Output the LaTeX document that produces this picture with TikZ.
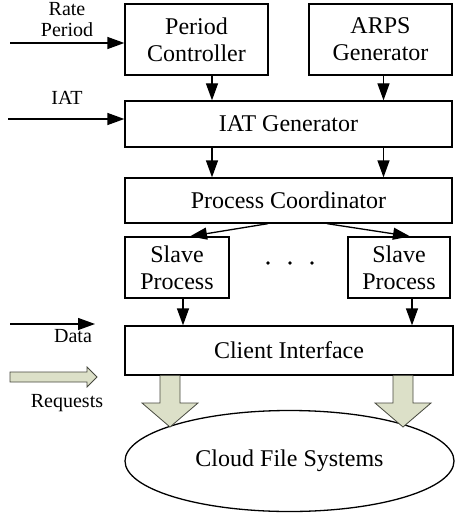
\documentclass[tikz,border=0pt]{standalone}
\usepackage{fontspec}
\setmainfont{Liberation Serif}
\usetikzlibrary{arrows.meta,shapes.geometric}
\definecolor{reqfill}{RGB}{220,224,200}
\definecolor{reqline}{RGB}{70,72,62}
\tikzset{
  box/.style={draw, line width=1.3pt, rectangle, inner sep=0pt, align=center,
    font=\fontsize{24}{27}\selectfont},
  lbl/.style={font=\fontsize{20}{23}\selectfont, inner sep=0pt},
  arr/.style={line width=1.3pt, -{Triangle[length=17pt,width=12pt]}},
  fat/.style={fill=reqfill, draw=reqline, line width=0.8pt, line join=miter},
}
\begin{document}
\begin{tikzpicture}[x=1pt,y=-1pt]
  \useasboundingbox (0,0) rectangle (455,516);

  % processing blocks
  \node[box, minimum width=143pt, minimum height=71pt] (pc)   at (196.5,39.5) {Period\\Controller};
  \node[box, minimum width=143pt, minimum height=71pt] (arps) at (380.5,39.5) {ARPS\\Generator};
  \node[box, minimum width=327pt, minimum height=46pt] (iat)  at (288.5,124)  {IAT Generator};
  \node[box, minimum width=327pt, minimum height=45pt] (coord) at (288.5,200.5) {Process Coordinator};
  \node[box, minimum width=104pt, minimum height=61pt] (sl)   at (177,267.5)  {Slave\\Process};
  \node[box, minimum width=102pt, minimum height=61pt] (sr)   at (399,267.5)  {Slave\\Process};
  \node[box, minimum width=328pt, minimum height=49pt] (ci)   at (289,350.5)  {Client Interface};
  \node[draw, line width=1.3pt, ellipse, minimum width=329pt, minimum height=101pt,
        inner sep=0pt, font=\fontsize{24}{27}\selectfont] (cfs) at (289.5,461) {Cloud File Systems};

  % ellipsis between the slave processes
  \foreach \dx/\nm in {268/d1,290/d2,312/d3}
    \fill (\dx,263) circle (1.8pt) coordinate (\nm);

  % column positions of the vertical connectors
  \coordinate (xa) at (212,0);
  \coordinate (xb) at (383.5,0);
  \coordinate (xc) at (183,0);
  \coordinate (xd) at (412,0);

  \draw[arr] (pc.south -| xa)   -- (iat.north -| xa);
  \draw[arr] (arps.south -| xb) -- (iat.north -| xb);
  \draw[arr] (iat.south -| xa)  -- (coord.north -| xa);
  \draw[arr] (iat.south -| xb)  -- (coord.north -| xb);

  \coordinate (cl) at (268,0);
  \coordinate (cr) at (327,0);
  \coordinate (tl) at (190,0);
  \coordinate (tr) at (410,0);
  \draw[arr] (coord.south -| cl) -- (sl.north -| tl);
  \draw[arr] (coord.south -| cr) -- (sr.north -| tr);

  \draw[arr] (sl.south -| xc) -- (ci.north -| xc);
  \draw[arr] (sr.south -| xd) -- (ci.north -| xd);

  % external inputs
  \coordinate (rin) at (10,43);
  \coordinate (iin) at (8,119);
  \draw[arr] (rin) -- (pc.west |- rin);
  \draw[arr] (iin) -- (iat.west |- iin);
  \node[lbl] (rate) at (67,9) {Rate};
  \node[lbl] (per)  at (67,30) {Period};
  \node[lbl] (iatl) at (67,98) {IAT};

  % legend
  \coordinate (da) at (10,324);
  \coordinate (db) at (95,324);
  \draw[arr] (da) -- (db);
  \node[lbl] (data) at (73,336) {Data};
  \draw[fat] (10,372) -- (87,372) -- (87,367) -- (97,377) -- (87,387) -- (87,382) -- (10,382) -- cycle;
  \node[lbl] (req) at (67,403) {Requests};

  % request flow into the file systems
  \foreach \cx in {170,403}
    \draw[fat] (\cx-10,375.6) -- (\cx-10,403) -- (\cx-28,403) -- (\cx,427)
               -- (\cx+28,403) -- (\cx+10,403) -- (\cx+10,375.6);
\end{tikzpicture}
\end{document}
